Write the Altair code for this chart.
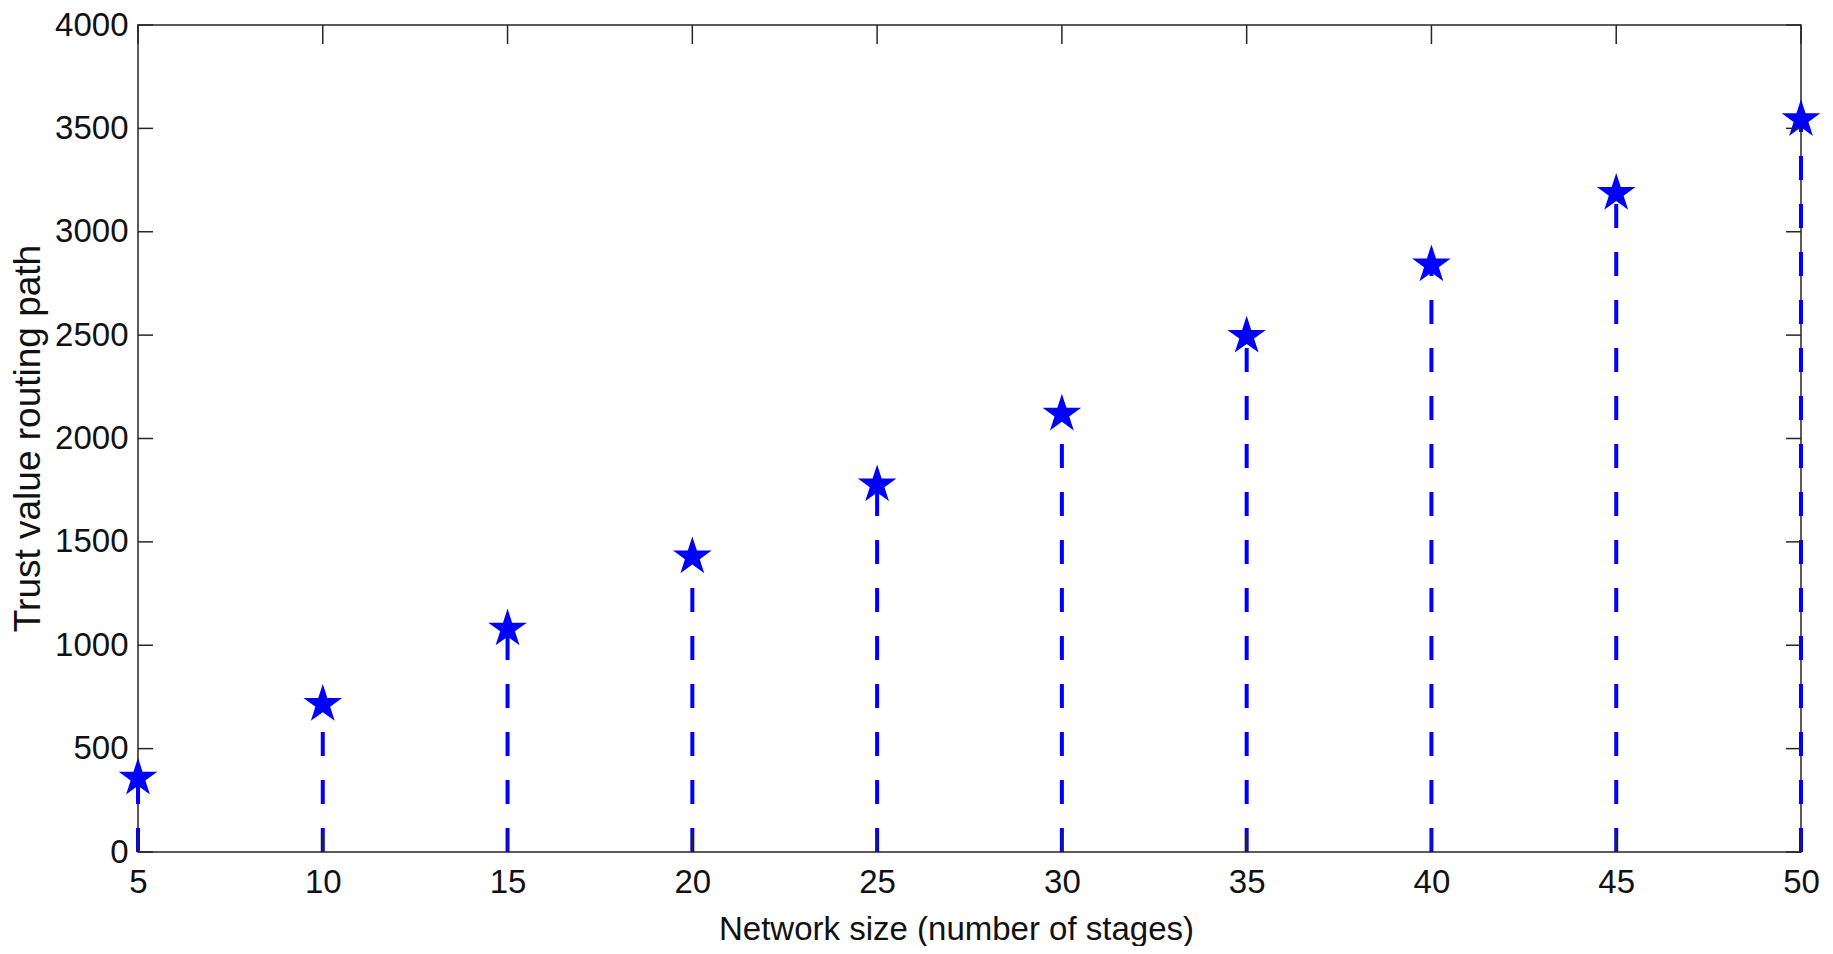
import math
import altair as alt
import pandas as pd

# ---- data ----
network_size = [5, 10, 15, 20, 25, 30, 35, 40, 45, 50]
trust_value = [358, 714, 1079, 1428, 1776, 2118, 2495, 2840, 3186, 3543]
x_ticks = [5, 10, 15, 20, 25, 30, 35, 40, 45, 50]
y_ticks = [0, 500, 1000, 1500, 2000, 2500, 3000, 3500, 4000]

df = pd.DataFrame({"size": network_size, "trust": trust_value})
dfx = pd.DataFrame({"t": x_ticks})
dfy = pd.DataFrame({"t": y_ticks})

W, H = 1663, 827
BLUE = "#0000FF"
AXC = "#262626"
FONT = "Liberation Sans"

# five-pointed star path in [-1, 1] box
pts = []
for k in range(10):
    ang = math.radians(-90 + 36 * k)
    r = 1.0 if k % 2 == 0 else 0.382
    pts.append(f"{r*math.cos(ang):.4f},{r*math.sin(ang):.4f}")
STAR = "M" + "L".join(pts) + "Z"

xs = alt.Scale(domain=[5, 50], nice=False, zero=False)
ys = alt.Scale(domain=[0, 4000], nice=False)

x_axis = alt.Axis(values=x_ticks, format="d", title="Network size (number of stages)", grid=False,
                  domain=False, ticks=False, tickSize=0, labelPadding=14,
                  labelFlush=False, labelOverlap=False,
                  labelFont=FONT, labelFontSize=33, labelColor="#111",
                  titleFont=FONT, titleFontSize=33, titleFontWeight="normal", titleColor="#111",
                  titleX=818, titleY=87, titleBaseline="alphabetic", titleAlign="center")
y_axis = alt.Axis(values=y_ticks, format="d", title="Trust value routing path", grid=False,
                  domain=False, ticks=False, tickSize=0, labelPadding=10,
                  labelFlush=False, labelOverlap=False,
                  labelFont=FONT, labelFontSize=33, labelColor="#111",
                  titleFont=FONT, titleFontSize=37, titleFontWeight="normal",
                  titleColor="#111", titleX=-99, titleY=413, titleBaseline="alphabetic",
                  titleAlign="center", titleAngle=-90)

base = alt.Chart(df)

stems = base.transform_calculate(base0="0").mark_rule(
    color=BLUE, strokeWidth=4, strokeDash=[24, 24]).encode(
    x=alt.X("size:Q", scale=xs, axis=x_axis),
    y=alt.Y("base0:Q", scale=ys, axis=y_axis),
    y2="trust:Q",
)

stars = base.mark_point(shape=STAR, filled=True, size=1650, color=BLUE, opacity=1).encode(
    x=alt.X("size:Q", scale=xs),
    y=alt.Y("trust:Q", scale=ys),
)

tick_bottom = alt.Chart(dfx).mark_rule(color=AXC, strokeWidth=1.5).encode(
    x=alt.X("t:Q", scale=xs), y=alt.value(H), y2=alt.value(H - 19))
tick_top = alt.Chart(dfx).mark_rule(color=AXC, strokeWidth=1.5).encode(
    x=alt.X("t:Q", scale=xs), y=alt.value(0), y2=alt.value(19))
tick_left = alt.Chart(dfy).mark_rule(color=AXC, strokeWidth=1.5).encode(
    y=alt.Y("t:Q", scale=ys), x=alt.value(0), x2=alt.value(15))
tick_right = alt.Chart(dfy).mark_rule(color=AXC, strokeWidth=1.5).encode(
    y=alt.Y("t:Q", scale=ys), x=alt.value(W), x2=alt.value(W - 15))

chart = alt.layer(stems, stars, tick_bottom, tick_top, tick_left, tick_right).properties(
    width=W, height=H,
    autosize=alt.AutoSizeParams(type="none"),
    padding={"left": 130, "top": 17, "right": 24, "bottom": 94},
    background="white",
).configure_view(stroke=AXC, strokeWidth=1.5)

chart.save("out.html", embed_options={"renderer": "svg", "actions": False})
